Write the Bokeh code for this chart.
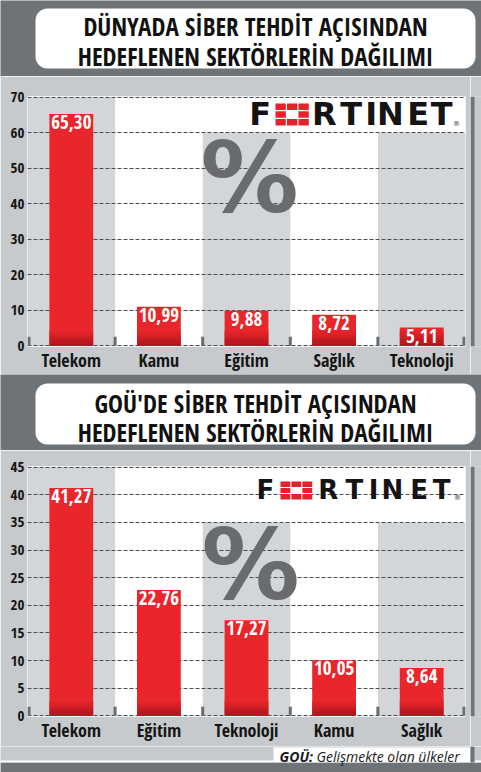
import numpy as np
from bokeh.plotting import figure
from bokeh.layouts import column, row
from bokeh.models import Range1d, FactorRange, FixedTicker, BoxAnnotation
from bokeh.core.properties import value
from bokeh.embed import file_html
from bokeh.resources import INLINE

# ---------------- data ----------------
title_world = ["DÜNYADA SİBER TEHDİT AÇISINDAN", "HEDEFLENEN SEKTÖRLERİN DAĞILIMI"]
title_dev = ["GOÜ'DE SİBER TEHDİT AÇISINDAN", "HEDEFLENEN SEKTÖRLERİN DAĞILIMI"]

sectors_world = ["Telekom", "Kamu", "Eğitim", "Sağlık", "Teknoloji"]
share_world = [65.30, 10.99, 9.88, 8.72, 5.11]
yticks_world = [0, 10, 20, 30, 40, 50, 60, 70]
band_tops_world = [70, 60, 60]

sectors_dev = ["Telekom", "Eğitim", "Teknoloji", "Kamu", "Sağlık"]
share_dev = [41.27, 22.76, 17.27, 10.05, 8.64]
yticks_dev = [0, 5, 10, 15, 20, 25, 30, 35, 40, 45]
band_tops_dev = [45, 35, 35]

logo_letters = ["F", "R", "T", "I", "N", "E", "T"]
footnote_abbr = "GOÜ:"
footnote_text = "Gelişmekte olan ülkeler"

# ---------------- style ----------------
W = 481
CHART_W = 470
DARK = "#6d7377"
PANEL = "#c6cacd"
BAND = "#d3d6d8"
RED = "#e8262b"
RED_DARK = "#a9141d"
GRID = "#4d4d4d"
PCT = "#6a6b6e"
LOGO_RED = "#e3222b"
COND = "Open Sans Condensed"


def bare_fig(w, h, bg):
    p = figure(width=w, height=h, x_range=Range1d(0, w), y_range=Range1d(0, h),
               output_backend="svg", toolbar_location=None, min_border=0,
               x_axis_location=None, y_axis_location=None)
    p.grid.visible = False
    p.outline_line_color = None
    p.background_fill_color = bg
    p.border_fill_color = bg
    return p


def box(p, l, r, top_px, bot_px, h, color, radius=0):
    p.add_layout(BoxAnnotation(left=l, right=r, bottom=h - bot_px, top=h - top_px,
                               fill_color=color, fill_alpha=1, line_color=None,
                               border_radius=radius, level="underlay"))


def make_title(lines, h, box_top, box_bot, line_mid):
    p = bare_fig(W, h, DARK)
    box(p, 35, 475, box_top, box_bot, h, "white", 12)
    p.text(x=[255, 255], y=[h - m for m in line_mid], text=lines, text_align="center",
           text_baseline="middle", text_color="#111111",
           text_font=value(COND), text_font_style="bold", text_font_size="25px")
    return p


def make_strip(h):
    p = bare_fig(W - CHART_W, h, PANEL)
    box(p, 0, 4, 0, h, h, DARK)
    return p


def make_chart(cats, vals, ticks, band_tops, h, top_b, bot_b, logo, pct):
    L, Rb = 27, CHART_W - 465
    plot_w = CHART_W - L - Rb
    plot_h = h - top_b - bot_b
    ymax = ticks[-1]
    eps = 0.8 * ymax / plot_h
    y0, y1 = -eps, ymax + eps
    kx = 5.0 / plot_w
    ky = (y1 - y0) / plot_h

    def fx(ref_x):           # page x -> synthetic x
        return (ref_x - L) * kx

    def fy(px):              # px below frame top -> data y
        return y1 - px * ky

    p = figure(width=CHART_W, height=h, x_range=FactorRange(factors=cats, range_padding=0),
               y_range=Range1d(y0, y1), output_backend="svg", toolbar_location=None,
               min_border_left=L, min_border_right=Rb, min_border_top=top_b,
               min_border_bottom=bot_b)
    p.outline_line_color = None
    p.background_fill_color = "white"
    p.border_fill_color = PANEL

    # alternating column bands
    p.vbar(x=[cats[0], cats[2], cats[4]], top=band_tops, bottom=0, width=1.0,
           fill_color=BAND, line_color=None, level="image")

    # axes
    for ax in (p.xaxis, p.yaxis):
        ax.axis_line_color = None
        ax.major_tick_line_color = None
        ax.minor_tick_line_color = None
        ax.major_tick_out = 0
        ax.major_tick_in = 0
        ax.minor_tick_out = 0
        ax.minor_tick_in = 0
        ax.major_label_text_font = COND
        ax.major_label_text_font_style = "bold"
        ax.major_label_text_color = "#151515"
    p.xaxis.major_label_standoff = 1
    p.xaxis.major_label_text_font_size = "18px"
    p.yaxis.ticker = FixedTicker(ticks=ticks)
    p.yaxis.major_label_standoff = 3
    p.yaxis.major_label_text_font_size = "15px"

    p.xgrid.visible = False
    p.ygrid.ticker = FixedTicker(ticks=ticks)
    p.ygrid.grid_line_dash = "4 2"
    p.ygrid.grid_line_color = GRID
    p.ygrid.grid_line_width = 1

    # bars
    v = np.array(vals)
    p.vbar(x=cats, top=vals, bottom=0, width=0.5, fill_color=RED, line_color=None)
    # darker shading at the bar foot
    n, G = 8, 15.0
    c0 = np.array([int(RED[i:i + 2], 16) for i in (1, 3, 5)])
    c1 = np.array([int(RED_DARK[i:i + 2], 16) for i in (1, 3, 5)])
    for k in range(n):
        b = k * G / n * ky
        t = np.minimum(v, (k + 1) * G / n * ky)
        f = 1 - (k + 0.5) / n
        c = (c0 + (c1 - c0) * f).astype(int)
        col = "#%02x%02x%02x" % tuple(c)
        p.vbar(x=cats, top=t, bottom=b, width=0.5, fill_color=col, line_color=None)

    labels = [f"{x:.2f}".replace(".", ",") for x in vals]
    p.text(x=cats, y=vals, text=labels, text_align="center", text_baseline="top",
           y_offset=1, text_color="white", text_font=value(COND),
           text_font_style="bold", text_font_size="19px")

    # small marks at the column boundaries
    mx = [1.5 * kx, 1, 2, 3, 4, 5 - 1.5 * kx]
    p.vbar(x=mx, top=9 * ky, bottom=0, width=3 * kx, fill_color="#676d71", line_color=None)

    # percent sign
    pcx, pcy = pct
    p.text(x=[fx(pcx)], y=[fy(pcy)], text=["%"], text_align="center",
           text_baseline="middle", text_color=PCT, text_font=value("DejaVu Sans"),
           text_font_style="bold", text_font_size="98px")

    # logo
    centers, (ox0, ox1), (ltop, lbot), font, regx = logo
    lmid = (ltop + lbot) / 2 - 0.5
    p.text(x=[fx(c) for c in centers], y=[fy(lmid)] * len(centers), text=logo_letters,
           text_align="center", text_baseline="middle", text_color="#141414",
           text_font=value("DejaVu Sans"), text_font_style="bold", text_font_size=font)
    colsf = [(0, 0.31), (0.345, 0.655), (0.69, 1.0)]
    rowsf = [(0, 0.3), (0.355, 0.645), (0.7, 1.0)]
    ql, qr, qt, qb = [], [], [], []
    for ri, (r0, r1) in enumerate(rowsf):
        for ci, (a0, a1) in enumerate(colsf):
            if ri == 1 and ci == 1:
                continue
            ql.append(fx(ox0 + (ox1 - ox0) * a0))
            qr.append(fx(ox0 + (ox1 - ox0) * a1))
            qt.append(fy(ltop + (lbot - ltop) * r0))
            qb.append(fy(ltop + (lbot - ltop) * r1))
    p.quad(left=ql, right=qr, top=qt, bottom=qb, fill_color=LOGO_RED, line_color=None)
    p.text(x=[fx(regx)], y=[fy(lbot - 2)], text=["®"], text_align="center",
           text_baseline="middle", text_color="#333333",
           text_font=value("DejaVu Sans"), text_font_size="7px")
    return p


def make_footnote(h):
    p = bare_fig(W, h, PANEL)
    box(p, 0, W, 16, 26, h, DARK)
    box(p, 0, W, 14, 16, h, "white")
    box(p, 273, 470, 1, 15, h, "white")
    box(p, 470, 474, 0, 16, h, DARK)
    p.text(x=[279], y=[h - 9.5], text=[footnote_abbr], text_align="left",
           text_baseline="middle", text_color="#1a1a1a", text_font=value("Open Sans"),
           text_font_style="bold italic", text_font_size="14px")
    p.text(x=[316], y=[h - 9.5], text=[footnote_text], text_align="left",
           text_baseline="middle", text_color="#1a1a1a", text_font=value("Open Sans"),
           text_font_style="italic", text_font_size="14px")
    return p


logo_world = ([259.7, 323.7, 350.7, 370.7, 390.0, 417.8, 441.2], (275, 308.3), (7, 29),
              "32px", 456)
logo_dev = ([265.0, 327.8, 353.9, 373.2, 391.8, 418.6, 441.2], (280, 311.7), (15, 33),
            "26px", 457)

t1 = make_title(title_world, 76, 8, 68, (25.5, 55))
c1 = make_chart(sectors_world, share_world, yticks_world, band_tops_world, 298, 20, 28,
                logo_world, (249, 81))
t2 = make_title(title_dev, 76, 9, 70, (28, 57.5))
c2 = make_chart(sectors_dev, share_dev, yticks_dev, band_tops_dev, 296, 16, 30,
                logo_dev, (250, 98))
fn = make_footnote(26)

layout = column(t1, row(c1, make_strip(298), spacing=0), t2,
                row(c2, make_strip(296), spacing=0), fn, spacing=0)
open("out.html", "w").write(file_html(layout, INLINE))
